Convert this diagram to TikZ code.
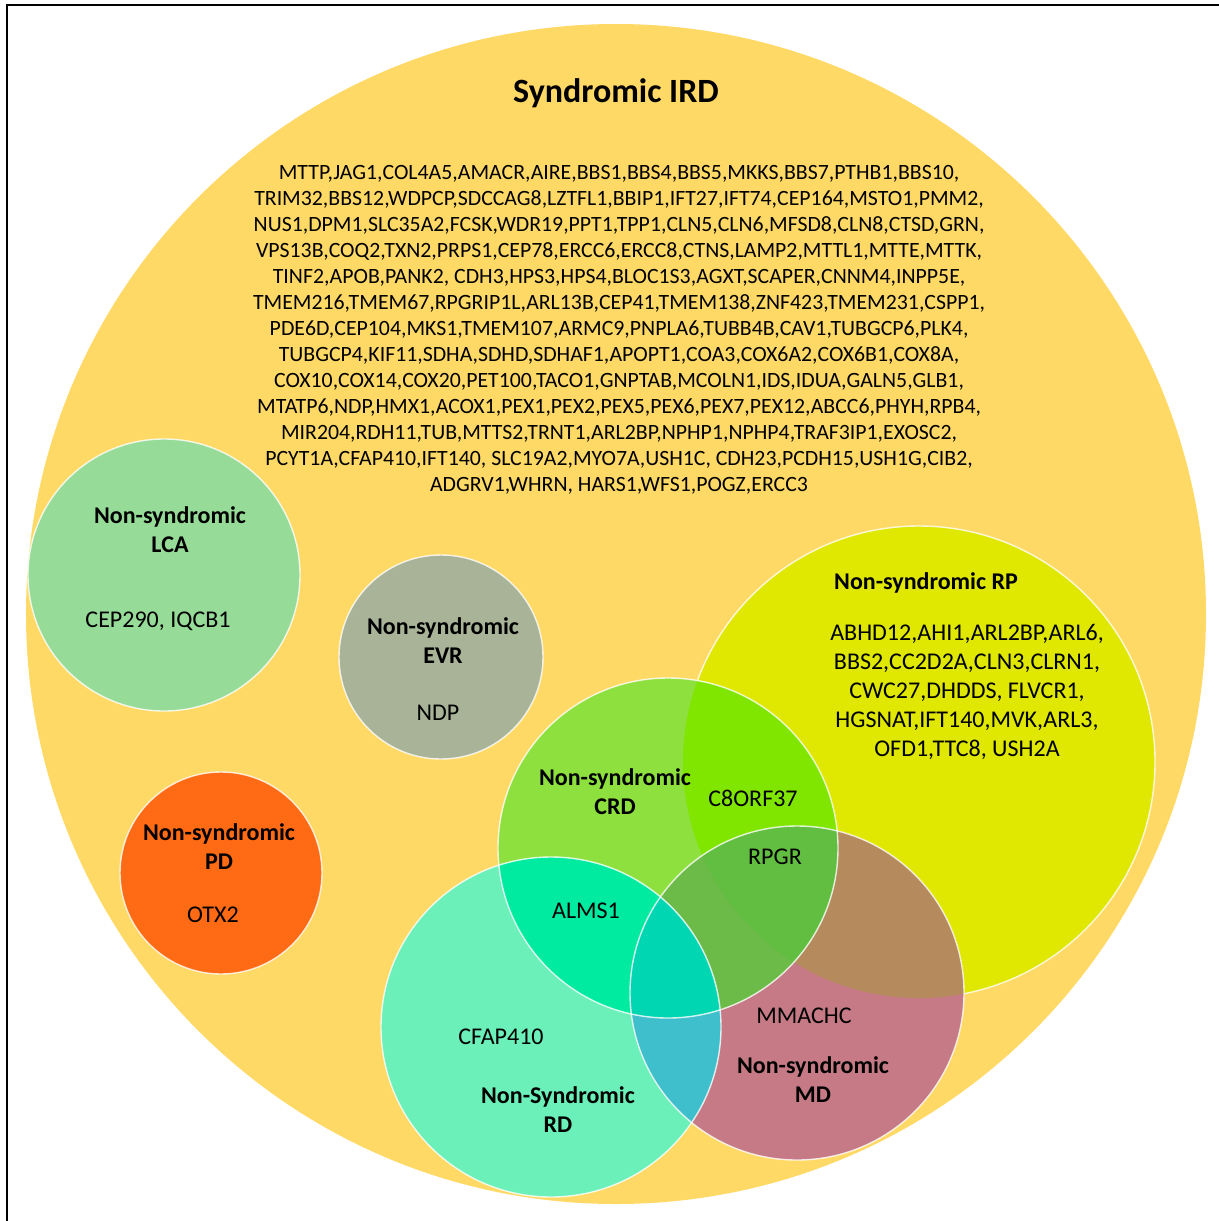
\documentclass[tikz,border=0pt]{standalone}
\usepackage{fontspec}
\setmainfont{Carlito}
\definecolor{bigY}{HTML}{FFD966}
\definecolor{lcaC}{HTML}{96DC98}
\definecolor{evrC}{HTML}{A8B398}
\definecolor{pdC}{HTML}{FF6A14}
\definecolor{rpC}{HTML}{E0E700}
\definecolor{crdC}{HTML}{8EE03E}
\definecolor{crdrpC}{HTML}{80E600}
\definecolor{rdC}{HTML}{6AF0B8}
\definecolor{rdcrdC}{HTML}{00EAA0}
\definecolor{mdC}{HTML}{C57A86}
\definecolor{mdrpC}{HTML}{B58A5C}
\definecolor{mdcrdC}{HTML}{6CBA48}
\definecolor{mdcrdrpC}{HTML}{62BE40}
\definecolor{mdrdC}{HTML}{3EBFCB}
\definecolor{mdrdcrdC}{HTML}{00D6B2}
\begin{document}
\begin{tikzpicture}[x=0.5pt,y=-0.5pt,
  genetext/.style={font=\fontsize{12}{14.5}\selectfont, inner sep=0pt, align=center},
  headtext/.style={font=\bfseries\fontsize{12}{14.5}\selectfont, inner sep=0pt, align=center},
  ring/.style={draw=white, draw opacity=0.8, line width=0.7pt}]
\useasboundingbox (0,0) rectangle (1219,1221);
\fill[white] (0,0) rectangle (1219,1221);
\draw[line width=1pt] (7,1221) -- (7,5) -- (1219,5);
% centres
\coordinate (cBig) at (616,614);
\coordinate (cLCA) at (164,575);
\coordinate (cEVR) at (441,657);
\coordinate (cPD) at (221,873);
\coordinate (cRP) at (919,762);
\coordinate (cCRD) at (668,848);
\coordinate (cRD) at (551,1027);
\coordinate (cMD) at (797,993);
% big circle
\fill[bigY] (cBig) circle[radius=295pt];
% separate circles
\fill[lcaC] (cLCA) circle[radius=68pt];
\draw[ring] (cLCA) circle[radius=68pt];
\fill[evrC] (cEVR) circle[radius=51pt];
\draw[ring] (cEVR) circle[radius=51pt];
\fill[pdC] (cPD) circle[radius=50.5pt];
\draw[ring] (cPD) circle[radius=50.5pt];
% RP
\fill[rpC] (cRP) circle[radius=118pt];
\draw[ring] (cRP) circle[radius=118pt];
% CRD
\fill[crdC] (cCRD) circle[radius=85pt];
\begin{scope}
  \clip (cCRD) circle[radius=85pt];
  \fill[crdrpC] (cRP) circle[radius=118pt];
\end{scope}
% RD
\fill[rdC] (cRD) circle[radius=85pt];
\begin{scope}
  \clip (cRD) circle[radius=85pt];
  \fill[rdcrdC] (cCRD) circle[radius=85pt];
\end{scope}
% MD
\fill[mdC] (cMD) circle[radius=83.5pt];
\begin{scope}
  \clip (cMD) circle[radius=83.5pt];
  \fill[mdrpC] (cRP) circle[radius=118pt];
  \fill[mdcrdC] (cCRD) circle[radius=85pt];
  \begin{scope}
    \clip (cCRD) circle[radius=85pt];
    \fill[mdcrdrpC] (cRP) circle[radius=118pt];
  \end{scope}
  \fill[mdrdC] (cRD) circle[radius=85pt];
  \begin{scope}
    \clip (cRD) circle[radius=85pt];
    \fill[mdrdcrdC] (cCRD) circle[radius=85pt];
  \end{scope}
\end{scope}
\draw[ring] (cCRD) circle[radius=85pt];
\draw[ring] (cRD) circle[radius=85pt];
\draw[ring] (cMD) circle[radius=83.5pt];
% texts
\node[font=\bfseries\fontsize{17}{20}\selectfont, inner sep=0pt] (tTitle) at (616,93) {Syndromic IRD};
\node[font=\fontsize{10.9}{13}\selectfont, inner sep=0pt, align=center] (tSyn) at (619,330) {%
MTTP,JAG1,COL4A5,AMACR,AIRE,BBS1,BBS4,BBS5,MKKS,BBS7,PTHB1,BBS10,\\
TRIM32,BBS12,WDPCP,SDCCAG8,LZTFL1,BBIP1,IFT27,IFT74,CEP164,MSTO1,PMM2,\\
NUS1,DPM1,SLC35A2,FCSK,WDR19,PPT1,TPP1,CLN5,CLN6,MFSD8,CLN8,CTSD,GRN,\\
VPS13B,COQ2,TXN2,PRPS1,CEP78,ERCC6,ERCC8,CTNS,LAMP2,MTTL1,MTTE,MTTK,\\
TINF2,APOB,PANK2, CDH3,HPS3,HPS4,BLOC1S3,AGXT,SCAPER,CNNM4,INPP5E,\\
TMEM216,TMEM67,RPGRIP1L,ARL13B,CEP41,TMEM138,ZNF423,TMEM231,CSPP1,\\
PDE6D,CEP104,MKS1,TMEM107,ARMC9,PNPLA6,TUBB4B,CAV1,TUBGCP6,PLK4,\\
TUBGCP4,KIF11,SDHA,SDHD,SDHAF1,APOPT1,COA3,COX6A2,COX6B1,COX8A,\\
COX10,COX14,COX20,PET100,TACO1,GNPTAB,MCOLN1,IDS,IDUA,GALN5,GLB1,\\
MTATP6,NDP,HMX1,ACOX1,PEX1,PEX2,PEX5,PEX6,PEX7,PEX12,ABCC6,PHYH,RPB4,\\
MIR204,RDH11,TUB,MTTS2,TRNT1,ARL2BP,NPHP1,NPHP4,TRAF3IP1,EXOSC2,\\
PCYT1A,CFAP410,IFT140, SLC19A2,MYO7A,USH1C, CDH23,PCDH15,USH1G,CIB2,\\
ADGRV1,WHRN, HARS1,WFS1,POGZ,ERCC3};
% LCA
\node[headtext] (hLCA) at (170,530) {Non-syndromic\\LCA};
\node[genetext] (gLCA) at (158,621) {CEP290, IQCB1};
% EVR
\node[headtext] (hEVR) at (443,641) {Non-syndromic\\EVR};
\node[genetext] (gEVR) at (438,713) {NDP};
% PD
\node[headtext] (hPD) at (219,847) {Non-syndromic\\PD};
\node[genetext] (gPD) at (213,915) {OTX2};
% RP
\node[headtext] (hRP) at (926,583) {Non-syndromic RP};
\node[genetext] (gRP) at (967,692) {ABHD12,AHI1,ARL2BP,ARL6,\\BBS2,CC2D2A,CLN3,CLRN1,\\CWC27,DHDDS, FLVCR1,\\HGSNAT,IFT140,MVK,ARL3,\\OFD1,TTC8, USH2A};
% CRD
\node[headtext] (hCRD) at (615,791.5) {Non-syndromic\\CRD};
\node[genetext] (gCRDRP) at (753,798) {C8ORF37};
\node[genetext] (gRPGR) at (775,857) {RPGR};
\node[genetext] (gALMS) at (586,911) {ALMS1};
% RD
\node[genetext] (gRD) at (501,1037) {CFAP410};
\node[headtext] (hRD) at (558,1110) {Non-Syndromic\\RD};
% MD
\node[genetext] (gMD) at (804,1016) {MMACHC};
\node[headtext] (hMD) at (813,1079.5) {Non-syndromic\\MD};
\end{tikzpicture}
\end{document}
